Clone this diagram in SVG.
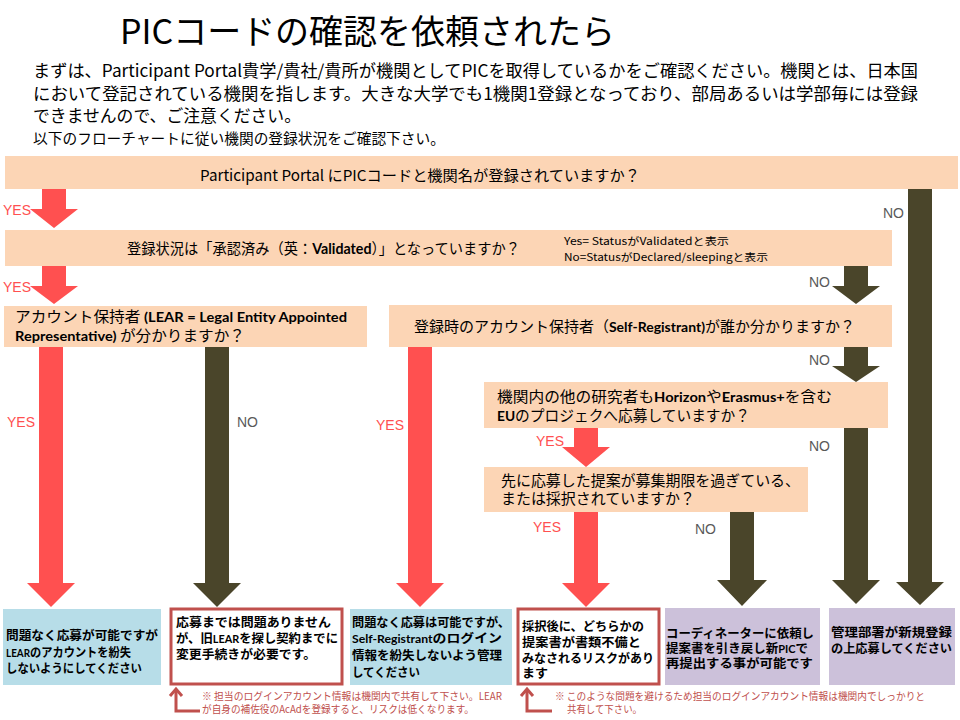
<svg xmlns="http://www.w3.org/2000/svg" width="960" height="720" viewBox="0 0 960 720">
<style>
text{font-family:'Noto Sans CJK JP','Noto Sans',sans-serif;fill:#000}
.title{font-size:34px}
.intro{font-size:17px}
.q{font-size:15px}
.b{font-family:Lato,'Noto Sans CJK JP',sans-serif;font-weight:bold}
.side{font-size:10.5px}
.yes{font-family:'Liberation Sans',Arial,sans-serif;font-size:14px;fill:#ff5050}
.no{font-family:'Liberation Sans',Arial,sans-serif;font-size:14px;fill:#595959}
.bx{font-size:12.5px;font-weight:bold}
.sm{font-family:Lato,'Noto Sans CJK JP',sans-serif;font-size:11px}
.note{font-size:10.5px;fill:#c0504d}
.peach{fill:#fcd5b5}
.blue{fill:#b7dde8}
.lilac{fill:#ccc1da}
.warn{fill:#fff;stroke:#c0504d;stroke-width:3}
.ra{fill:#ff5050}
.da{fill:#4a452a}
.br{fill:none;stroke:#c0504d;stroke-width:3}
</style>

<g id="header">
<text class="title" x="120" y="44" textLength="495" lengthAdjust="spacingAndGlyphs">PICコードの確認を依頼されたら</text>
<text class="intro" x="33" y="77" textLength="885" lengthAdjust="spacingAndGlyphs">まずは、Participant Portal貴学/貴社/貴所が機関としてPICを取得しているかをご確認ください。機関とは、日本国</text>
<text class="intro" x="33" y="100" textLength="885" lengthAdjust="spacingAndGlyphs">において登記されている機関を指します。大きな大学でも1機関1登録となっており、部局あるいは学部毎には登録</text>
<text class="intro" x="33" y="122" textLength="268" lengthAdjust="spacingAndGlyphs">できませんので、ご注意ください。</text>
<text x="33" y="144" font-size="14.5" textLength="412" lengthAdjust="spacingAndGlyphs">以下のフローチャートに従い機関の登録状況をご確認下さい。</text>
</g>

<g id="connectors">
<polygon class="ra" points="42,189 66,189 66,209 78,209 54,228 30,209 42,209"/>
<polygon class="ra" points="42,266 66,266 66,286 78,286 54,304 30,286 42,286"/>
<polygon class="ra" points="39,347 63,347 63,583 75,583 51,607 27,583 39,583"/>
<polygon class="da" points="205,347 229,347 229,583 241,583 217,607 193,583 205,583"/>
<polygon class="ra" points="408,346 432,346 432,583 444,583 420,607 396,583 408,583"/>
<polygon class="ra" points="574,428 598,428 598,447 610,447 586,467 562,447 574,447"/>
<polygon class="ra" points="574,512 598,512 598,583 610,583 586,607 562,583 574,583"/>
<polygon class="da" points="730,512 754,512 754,580 767,580 742,606 717,580 730,580"/>
<polygon class="da" points="844,428 868,428 868,580 880,580 856,604 832,580 844,580"/>
<polygon class="da" points="844,347 868,347 868,366 880,366 856,382 832,366 844,366"/>
<polygon class="da" points="844,266 868,266 868,286 880,286 856,304 832,286 844,286"/>
<polygon class="da" points="908,188 932,188 932,582 944,582 920,605 896,582 908,582"/>
<text class="yes" x="3" y="215">YES</text>
<text class="yes" x="3" y="292">YES</text>
<text class="yes" x="7" y="427">YES</text>
<text class="yes" x="376" y="430">YES</text>
<text class="yes" x="536" y="446">YES</text>
<text class="yes" x="533" y="532">YES</text>
<text class="no" x="883" y="218">NO</text>
<text class="no" x="809" y="287">NO</text>
<text class="no" x="809" y="365">NO</text>
<text class="no" x="237" y="427">NO</text>
<text class="no" x="809" y="451">NO</text>
<text class="no" x="695" y="534">NO</text>
</g>

<g id="q1">
<rect class="peach" x="5" y="156" width="953" height="33"/>
<text class="q" x="200" y="181" textLength="440" lengthAdjust="spacingAndGlyphs">Participant Portal にPICコードと機関名が登録されていますか？</text>
</g>

<g id="q2">
<rect class="peach" x="5" y="230" width="887" height="36"/>
<text class="q" x="127" y="254" font-size="16" textLength="393" lengthAdjust="spacingAndGlyphs">登録状況は「承認済み（英：<tspan class="b">Validated</tspan>）」となっていますか？</text>
<text class="side" x="564" y="245" textLength="165" lengthAdjust="spacingAndGlyphs">Yes= StatusがValidatedと表示</text>
<text class="side" x="564" y="261" textLength="204" lengthAdjust="spacingAndGlyphs">No=StatusがDeclared/sleepingと表示</text>
</g>

<g id="q3">
<rect class="peach" x="4" y="306" width="363" height="41"/>
<text class="q" x="15" y="322" textLength="332" lengthAdjust="spacingAndGlyphs">アカウント保持者<tspan class="b" font-size="14">  (LEAR = Legal Entity Appointed</tspan></text>
<text class="q" x="15" y="341" textLength="230" lengthAdjust="spacingAndGlyphs"><tspan class="b" font-size="14">Representative)</tspan> が分かりますか？</text>
</g>

<g id="q4">
<rect class="peach" x="389" y="305" width="503" height="42"/>
<text class="q" x="414" y="332" textLength="441" lengthAdjust="spacingAndGlyphs">登録時のアカウント保持者（<tspan class="b" font-size="14">Self-Registrant)</tspan>が誰か分かりますか？</text>
</g>

<g id="q5">
<rect class="peach" x="484" y="382" width="404" height="46"/>
<text class="q" x="497" y="402" textLength="335" lengthAdjust="spacingAndGlyphs">機関内の他の研究者も<tspan class="b" font-size="14">Horizon</tspan>や<tspan class="b" font-size="14">Erasmus+</tspan>を含む</text>
<text class="q" x="497" y="421" textLength="253" lengthAdjust="spacingAndGlyphs"><tspan class="b" font-size="14">EU</tspan>のプロジェクへ応募していますか？</text>
</g>

<g id="q6">
<rect class="peach" x="484" y="467" width="324" height="45"/>
<text class="q" x="501" y="486" textLength="299" lengthAdjust="spacingAndGlyphs">先に応募した提案が募集期限を過ぎている、</text>
<text class="q" x="501" y="504" textLength="194" lengthAdjust="spacingAndGlyphs">または採択されていますか？</text>
</g>

<g id="r1">
<rect class="blue" x="3" y="609" width="158" height="76"/>
<text class="bx" x="6" y="640" textLength="152" lengthAdjust="spacingAndGlyphs">問題なく応募が可能ですが</text>
<text class="bx" x="6" y="657" textLength="125" lengthAdjust="spacingAndGlyphs"><tspan class="sm">LEAR</tspan>のアカウントを紛失</text>
<text class="bx" x="6" y="673" textLength="136" lengthAdjust="spacingAndGlyphs">しないようにしてください</text>
</g>

<g id="r2">
<rect class="warn" x="171" y="609" width="171" height="75"/>
<text class="bx" x="176" y="627" textLength="155" lengthAdjust="spacingAndGlyphs">応募までは問題ありません</text>
<text class="bx" x="176" y="643" textLength="162" lengthAdjust="spacingAndGlyphs">が、旧<tspan class="sm">LEAR</tspan>を探し契約までに</text>
<text class="bx" x="176" y="659" textLength="140" lengthAdjust="spacingAndGlyphs">変更手続きが必要です。</text>
</g>

<g id="r3">
<rect class="blue" x="350" y="609" width="162" height="76"/>
<text class="bx" x="352" y="627" textLength="158" lengthAdjust="spacingAndGlyphs">問題なく応募は可能ですが、</text>
<text class="bx" x="352" y="643" textLength="150" lengthAdjust="spacingAndGlyphs"><tspan class="sm">Self-Registrant</tspan>のログイン</text>
<text class="bx" x="352" y="660" textLength="150" lengthAdjust="spacingAndGlyphs">情報を紛失しないよう管理</text>
<text class="bx" x="352" y="677" textLength="68" lengthAdjust="spacingAndGlyphs">してください</text>
</g>

<g id="r4">
<rect class="warn" x="518" y="609" width="141" height="75"/>
<text class="bx" x="522" y="631" textLength="122" lengthAdjust="spacingAndGlyphs">採択後に、どちらかの</text>
<text class="bx" x="522" y="647" textLength="119" lengthAdjust="spacingAndGlyphs">提案書が書類不備と</text>
<text class="bx" x="522" y="663" textLength="132" lengthAdjust="spacingAndGlyphs">みなされるリスクがあり</text>
<text class="bx" x="522" y="678" textLength="26" lengthAdjust="spacingAndGlyphs">ます</text>
</g>

<g id="r5">
<rect class="lilac" x="665" y="608" width="155" height="77"/>
<text class="bx" x="666" y="638" textLength="148" lengthAdjust="spacingAndGlyphs">コーディネーターに依頼し</text>
<text class="bx" x="666" y="653" textLength="142" lengthAdjust="spacingAndGlyphs">提案書を引き戻し新<tspan class="sm">PIC</tspan>で</text>
<text class="bx" x="666" y="668" textLength="147" lengthAdjust="spacingAndGlyphs">再提出する事が可能です</text>
</g>

<g id="r6">
<rect class="lilac" x="829" y="608" width="126" height="77"/>
<text class="bx" x="831" y="637" textLength="121" lengthAdjust="spacingAndGlyphs">管理部署が新規登録</text>
<text class="bx" x="831" y="653" textLength="121" lengthAdjust="spacingAndGlyphs">の上応募してください</text>
</g>

<g id="notes">
<polyline class="br" points="200,711 176,711 176,689"/>
<polyline class="br" points="170,696 176,689 182,696"/>
<text class="note" x="202" y="700" textLength="300" lengthAdjust="spacingAndGlyphs">※ 担当のログインアカウント情報は機関内で共有して下さい。LEAR</text>
<text class="note" x="202" y="713" textLength="272" lengthAdjust="spacingAndGlyphs">が自身の補佐役のAcAdを登録すると、リスクは低くなります。</text>
<polyline class="br" points="552,711 527,711 527,689"/>
<polyline class="br" points="521,696 527,689 533,696"/>
<text class="note" x="555" y="700" textLength="370" lengthAdjust="spacingAndGlyphs">※ このような問題を避けるため担当のログインアカウント情報は機関内でしっかりと</text>
<text class="note" x="567" y="713" textLength="75" lengthAdjust="spacingAndGlyphs">共有して下さい。</text>
</g>
</svg>
